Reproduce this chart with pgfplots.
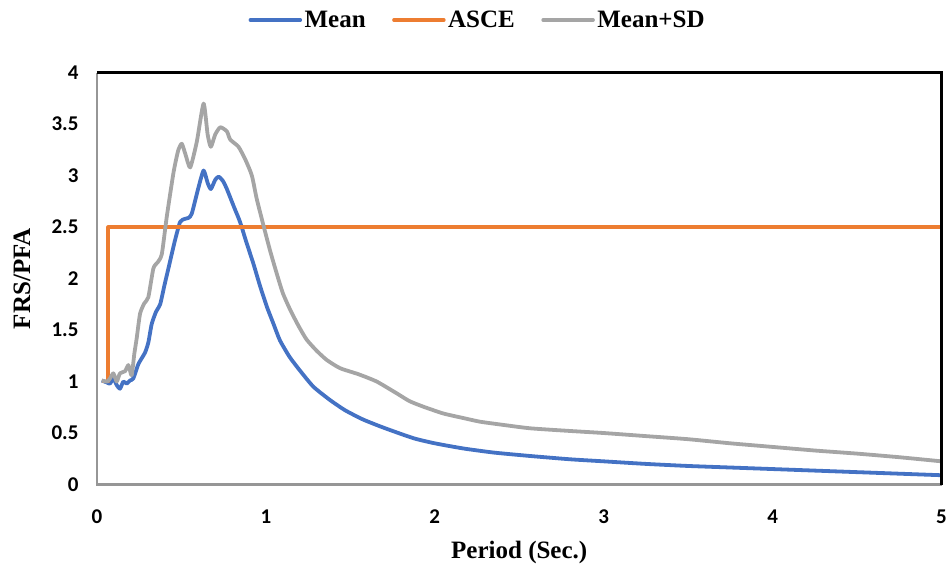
\documentclass[border=0pt]{standalone}
\usepackage{fontspec}
\setmainfont{Liberation Serif}
\newfontfamily\carlito{Carlito}
\usepackage{pgfplots}
\pgfplotsset{compat=1.18}
\definecolor{cblue}{HTML}{4472C4}
\definecolor{corange}{HTML}{ED7D31}
\definecolor{cgray}{HTML}{A5A5A5}
\definecolor{frgray}{RGB}{150,150,150}
\begin{document}
\begin{tikzpicture}
\begin{axis}[
  scale only axis, width=844.5pt, height=411.8pt,
  xmin=0, xmax=5, ymin=0, ymax=4,
  xtick={0,1,2,3,4,5},
  ytick={0,0.5,1,1.5,2,2.5,3,3.5,4},
  major tick length=0pt,
  axis line style={draw=none},
  clip=false,
  /pgf/number format/assume math mode=true,
  ticklabel style={font=\carlito\bfseries\fontsize{21}{25}\selectfont},
  xticklabel style={anchor=center, yshift=-32pt},
  yticklabel shift=15pt,
  xlabel={Period (Sec.)},
  ylabel={FRS/PFA},
  label style={font=\bfseries\fontsize{25}{30}\selectfont},
  xlabel style={at={(axis description cs:0.5,-0.166)}, anchor=center},
  ylabel style={at={(axis description cs:-0.0888,0.5)}, anchor=center},
  legend columns=3,
  legend style={draw=none, fill=none, at={(axis description cs:0.451,1.128)}, anchor=center,
    font=\bfseries\fontsize{25}{30}\selectfont,
    /tikz/every even column/.append style={column sep=24pt},
    nodes={inner sep=2.5pt}},
  legend image code/.code={\draw[#1, line width=3.5pt, line cap=round] (0pt,0pt) -- (50pt,0pt);},
  every axis plot/.append style={line width=3.8pt, line join=round},
]
\addplot[cblue, smooth, tension=0.35] coordinates {
(0.028,1.01)(0.06,0.99)(0.077,0.98)(0.097,1.03)(0.117,0.965)(0.136,0.93)(0.156,1.00)(0.176,0.98)(0.195,1.01)(0.215,1.03)(0.245,1.17)(0.284,1.28)(0.304,1.38)(0.324,1.56)(0.35,1.68)(0.374,1.75)(0.40,1.94)(0.423,2.10)(0.46,2.36)(0.492,2.55)(0.52,2.58)(0.542,2.59)(0.561,2.63)(0.60,2.88)(0.631,3.05)(0.655,2.93)(0.674,2.87)(0.70,2.96)(0.72,2.99)(0.745,2.95)(0.769,2.87)(0.81,2.70)(0.847,2.55)(0.885,2.35)(0.925,2.15)(0.965,1.93)(1.005,1.73)(1.045,1.56)(1.083,1.40)(1.14,1.24)(1.20,1.11)(1.281,0.95)(1.38,0.82)(1.47,0.72)(1.577,0.63)(1.70,0.55)(1.873,0.45)(2.00,0.40)(2.169,0.35)(2.35,0.31)(2.564,0.277)(2.8,0.245)(3.0,0.225)(3.25,0.20)(3.5,0.18)(3.75,0.165)(4.0,0.15)(4.25,0.135)(4.5,0.12)(4.75,0.105)(5.0,0.09)
};
\addlegendentry{Mean}
\addplot[corange] coordinates {(0.028,1.0)(0.067,1.0)(0.067,2.5)(5,2.5)};
\addlegendentry{ASCE}
\addplot[cgray, smooth, tension=0.35] coordinates {
(0.028,1.01)(0.06,1.00)(0.077,1.03)(0.097,1.08)(0.117,1.00)(0.136,1.08)(0.166,1.10)(0.186,1.16)(0.205,1.06)(0.221,1.27)(0.235,1.42)(0.255,1.66)(0.28,1.76)(0.304,1.82)(0.334,2.10)(0.36,2.16)(0.384,2.24)(0.413,2.60)(0.453,3.03)(0.48,3.24)(0.502,3.31)(0.525,3.20)(0.552,3.08)(0.591,3.33)(0.631,3.70)(0.655,3.40)(0.674,3.28)(0.70,3.40)(0.73,3.47)(0.769,3.43)(0.789,3.35)(0.838,3.28)(0.88,3.15)(0.917,3.00)(0.945,2.78)(0.985,2.52)(1.025,2.27)(1.064,2.05)(1.10,1.86)(1.143,1.70)(1.19,1.55)(1.24,1.41)(1.30,1.30)(1.36,1.21)(1.439,1.13)(1.55,1.07)(1.656,1.00)(1.774,0.886)(1.85,0.81)(1.932,0.756)(2.05,0.69)(2.17,0.645)(2.268,0.61)(2.40,0.58)(2.564,0.546)(2.8,0.52)(3.0,0.50)(3.25,0.47)(3.5,0.44)(3.75,0.40)(4.0,0.365)(4.25,0.33)(4.5,0.30)(4.75,0.265)(5.0,0.225)
};
\addlegendentry{Mean+SD}
\draw[frgray, line width=2.5pt] (rel axis cs:0,1) -- (rel axis cs:0,0) -- (rel axis cs:1,0);
\draw[black, line width=3pt] (rel axis cs:0,1) -- (rel axis cs:1,1) -- (rel axis cs:1,0);
\coordinate (SW) at (rel axis cs:0,0);
\coordinate (NE) at (rel axis cs:1,1);
\end{axis}
\pgfresetboundingbox
\path ([shift={(-97pt,-85.5pt)}]SW) rectangle ([shift={(5.5pt,72.7pt)}]NE);
\end{tikzpicture}
\end{document}
